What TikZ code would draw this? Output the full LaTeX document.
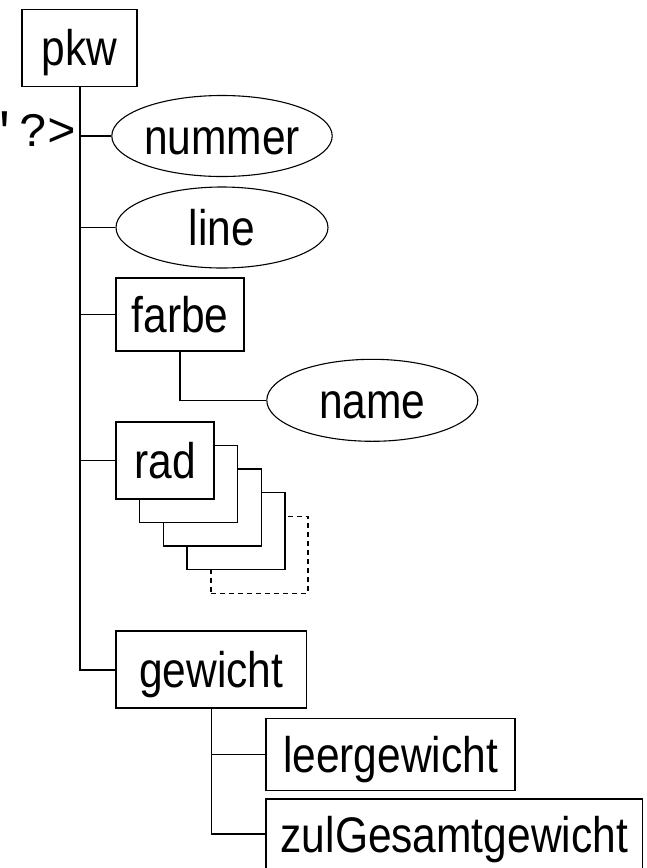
\documentclass[tikz,border=0pt]{standalone}
\usepackage{fontspec}
\setmainfont{Liberation Sans}[FakeStretch=0.85]
\newfontfamily\codefont{Liberation Mono}
\usetikzlibrary{shapes.geometric}

\begin{document}
\begin{tikzpicture}[x=1pt,y=-1pt,
  elem/.style={draw,line width=1.4pt,fill=white,minimum height=77pt,inner sep=0pt,font=\fontsize{50}{60}\selectfont,text height=36pt,text depth=0pt},
  attr/.style={draw,ellipse,line width=1.1pt,fill=white,minimum width=212pt,minimum height=81pt,inner sep=0pt,font=\fontsize{50}{60}\selectfont,text height=36pt,text depth=0pt},
  more/.style={elem,dash pattern=on 5pt off 4pt},
  link/.style={line width=1.4pt},
  trunk/.style={line width=2pt}
]
\useasboundingbox (0,0) rectangle (647,868);
\clip (0,0) rectangle (647,868);

% cut-off text at the left edge
\node[font=\codefont\fontsize{48}{54}\selectfont,anchor=base east,inner sep=0pt] (pi) at (77,146) {\char"27?>};

\node[elem,minimum width=115pt] (pkw) at (79.5,47.7) {pkw};
\node[attr] (nummer) at (222,136) {nummer};
\node[attr] (line) at (222,227.5) {line};
\node[elem,minimum width=128pt,minimum height=73pt] (farbe) at (180,314.5) {farbe};
\node[attr,minimum width=211pt,minimum height=82pt] (name) at (372.3,400.3) {name};

% repeated rad elements, back to front
\node[more,minimum width=97pt] (rad4) at ({165+4*23.6},{460.3+4*23.6}) {};
\foreach \k in {3,2,1}
  \node[elem,minimum width=98pt] (rad\k) at ({165+\k*23.6},{460.3+\k*23.6}) {};
\node[elem,minimum width=98pt] (rad) at (165,460.3) {rad};

\node[elem,minimum width=190.7pt] (gewicht) at (211.3,669.5) {gewicht};
\node[elem,minimum width=249pt,minimum height=72pt] (leer) at (390.5,754.2) {leergewicht};
\node[elem,minimum width=376.7pt,minimum height=70pt] (zul) at (454.3,834) {zulGesamtgewicht};

\draw[trunk] (pkw.south) |- (gewicht.west);
\foreach \n in {nummer,line,farbe,rad}
  \draw[link] (pkw.south |- \n.west) -- (\n.west);
\draw[link] (farbe.south) |- (name.west);
\draw[link] (gewicht.south) |- (zul.west);
\draw[link] (gewicht.south |- leer.west) -- (leer.west);
\end{tikzpicture}
\end{document}
